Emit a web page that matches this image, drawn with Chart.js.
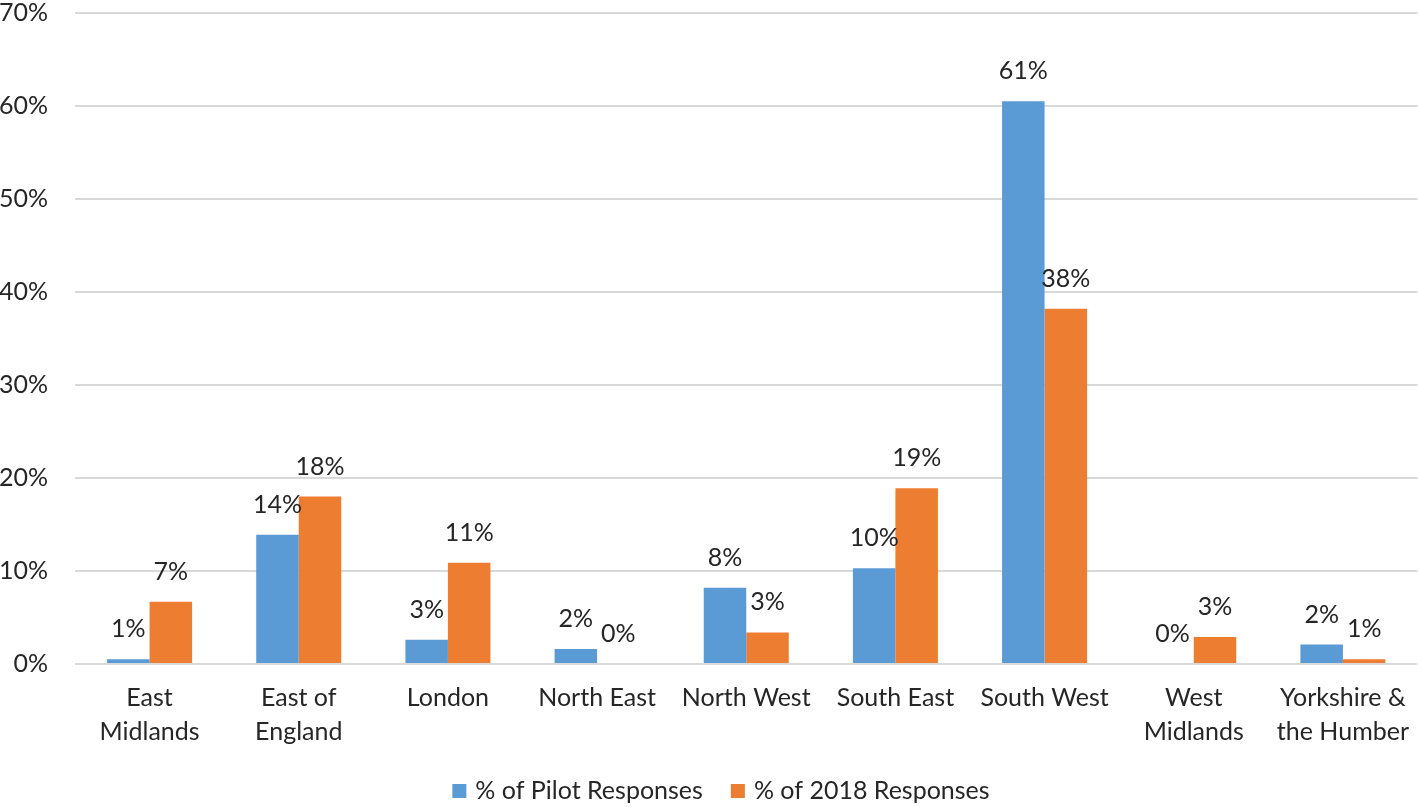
<!DOCTYPE html>
<html>
<head>
<meta charset="utf-8">
<script src="https://cdn.jsdelivr.net/npm/chart.js@4/dist/chart.umd.min.js"></script>
<style>
  html, body { margin: 0; padding: 0; background: #fff; }
  #wrap { width: 1418px; height: 807px; position: relative; }
</style>
</head>
<body>
<div id="wrap"><canvas id="chart"></canvas></div>
<script>
// Regions along the x axis
const regions = [
    ['East', 'Midlands'], ['East of', 'England'], 'London', 'North East', 'North West',
    'South East', 'South West', ['West', 'Midlands'], ['Yorkshire &', 'the Humber']
];
// Share of responses, in percent
const pilotResponses = [0.5, 13.9, 2.6, 1.6, 8.2, 10.3, 60.5, 0, 2.1];
const responses2018 = [6.7, 18.0, 10.9, 0, 3.4, 18.9, 38.2, 2.9, 0.5];
const yTicks = [0, 10, 20, 30, 40, 50, 60, 70];

const FONT = 'Lato, "Open Sans", sans-serif';
const TEXT = '#262626';
const SIZE = 25;

// Excel-style value labels above each bar
const barLabels = {
    id: 'barLabels',
    afterDatasetsDraw(chart) {
        const ctx = chart.ctx;
        ctx.save();
        ctx.font = `${SIZE}px ${FONT}`;
        ctx.fillStyle = TEXT;
        ctx.textAlign = 'center';
        ctx.textBaseline = 'middle';
        chart.data.datasets.forEach((ds, i) => {
            chart.getDatasetMeta(i).data.forEach((bar, j) => {
                ctx.fillText(Math.round(ds.data[j]) + '%', bar.x, bar.y - 30);
            });
        });
        ctx.restore();
    }
};

// legend at the bottom, drawn by hand so the spacing matches
const bottomLegend = {
    id: 'bottomLegend',
    afterDraw(chart) {
        const ctx = chart.ctx;
        const box = 14, gapText = 9, gapItem = 28, y = 791;
        ctx.save();
        ctx.font = `${SIZE}px ${FONT}`;
        ctx.textBaseline = 'middle';
        ctx.textAlign = 'left';
        const items = chart.data.datasets.map(ds => ({ ds, w: ctx.measureText(ds.label).width }));
        const total = items.reduce((s, it) => s + box + gapText + it.w, 0) + gapItem * (items.length - 1);
        let x = 721 - total / 2;
        items.forEach(it => {
            ctx.fillStyle = it.ds.backgroundColor;
            ctx.fillRect(x, y - box / 2, box, box);
            ctx.fillStyle = TEXT;
            ctx.fillText(it.ds.label, x + box + gapText, y);
            x += box + gapText + it.w + gapItem;
        });
        ctx.restore();
    }
};

const ctx = document.getElementById('chart').getContext('2d');
new Chart(ctx, {
    type: 'bar',
    data: {
        labels: regions,
        datasets: [
            { label: '% of Pilot Responses', data: pilotResponses, backgroundColor: '#5B9BD5', borderWidth: 0 },
            { label: '% of 2018 Responses', data: responses2018, backgroundColor: '#ED7D31', borderWidth: 0 }
        ]
    },
    options: {
        responsive: true, maintainAspectRatio: false, animation: false,
        layout: { padding: { top: 0, right: 0, bottom: 49, left: 0 } },
        datasets: { bar: { categoryPercentage: 0.57, barPercentage: 1 } },
        plugins: {
            legend: { display: false },
            tooltip: { enabled: false }
        },
        scales: {
            x: {
                grid: { display: false },
                border: { display: false },
                ticks: { color: TEXT, font: { family: FONT, size: SIZE, lineHeight: 1.36 }, maxRotation: 0, padding: 9 }
            },
            y: {
                min: 0, max: 70,
                afterBuildTicks: axis => { axis.ticks = yTicks.map(v => ({ value: v })); },
                afterFit: axis => { axis.width = 75; axis.paddingTop = 13; },
                grid: { color: '#d9d9d9', lineWidth: 2, drawTicks: false },
                border: { display: false },
                ticks: { color: TEXT, font: { family: FONT, size: SIZE }, padding: 27, callback: v => v + '%' }
            }
        }
    },
    plugins: [barLabels, bottomLegend]
});
</script>
</body>
</html>
